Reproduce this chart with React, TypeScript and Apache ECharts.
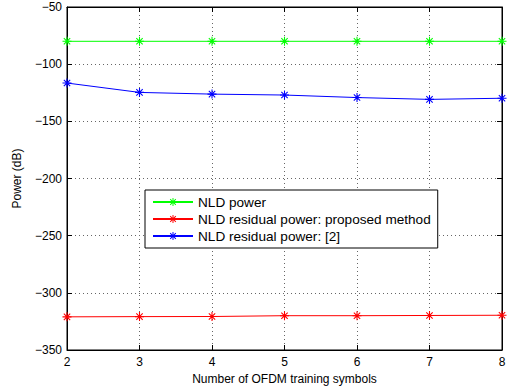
import React, { useEffect, useRef } from "react";
import * as echarts from "echarts";

const symbolsX = [2, 3, 4, 5, 6, 7, 8];
const nldPower = [-80, -80, -80, -80, -80, -80, -80];
const residualProposed = [-321, -320.8, -320.7, -320, -320, -319.8, -319.6];
const residualRef2 = [-116.5, -124.7, -126.2, -127, -129.2, -130.8, -129.8];
const seriesNames = ["NLD power", "NLD residual power: proposed method", "NLD residual power: [2]"];
const seriesColors = ["#00ff00", "#ff0000", "#0000ff"];

const star =
  "path://M-0.6,-5L0.6,-5L0.6,5L-0.6,5Z M-5,-0.6L5,-0.6L5,0.6L-5,0.6Z M-3.96,-3.11L-3.11,-3.96L3.96,3.11L3.11,3.96Z M3.11,-3.96L3.96,-3.11L-3.11,3.96L-3.96,3.11Z";

const fmt = (v: number) => (v < 0 ? "\u2212" + Math.abs(v) : String(v));
const font = "Liberation Sans, Arial, Helvetica, sans-serif";

export default function App() {
  const ref = useRef<HTMLDivElement>(null);
  useEffect(() => {
    const chart = echarts.init(ref.current!, null, { renderer: "svg" });
    const mk = (i: number, data: number[]) => ({
      name: seriesNames[i],
      type: "line",
      data: symbolsX.map((x, k) => [x, data[k]]),
      symbol: star,
      symbolSize: 9,
      showSymbol: true,
      lineStyle: { color: seriesColors[i], width: 1 },
      itemStyle: { color: seriesColors[i] },
    });
    chart.setOption({
      animation: false,
      textStyle: { fontFamily: font },
      grid: { left: 67, right: 9, top: 7, bottom: 41, show: true, borderColor: "#000", borderWidth: 1, backgroundColor: "#fff" },
      legend: {
        orient: "vertical",
        left: 145,
        top: 190,
        width: 285,
        backgroundColor: "#fff",
        borderColor: "#000",
        borderWidth: 1,
        padding: [5, 7, 5, 7],
        itemWidth: 40,
        itemHeight: 10,
        itemGap: 3,
        textStyle: { fontSize: 13.6, color: "#000", fontFamily: font },
        data: seriesNames,
      },
      xAxis: [
        {
          type: "value",
          min: 2,
          max: 8,
          interval: 1,
          name: "Number of OFDM training symbols",
          nameLocation: "middle",
          nameGap: 22,
          nameTextStyle: { fontSize: 12, color: "#000" },
          axisLine: { show: true, lineStyle: { color: "#000" } },
          axisTick: { show: true, inside: true, length: 5, lineStyle: { color: "#000" } },
          axisLabel: { fontSize: 12, color: "#000", margin: 6 },
          splitLine: { show: true, lineStyle: { color: "#666", type: [1, 3], width: 1 } },
        },
        {
          type: "value",
          position: "top",
          min: 2,
          max: 8,
          interval: 1,
          axisLine: { show: true, lineStyle: { color: "#000" } },
          axisTick: { show: true, inside: true, length: 5, lineStyle: { color: "#000" } },
          axisLabel: { show: false },
          splitLine: { show: false },
        },
      ],
      yAxis: [
        {
          type: "value",
          min: -350,
          max: -50,
          interval: 50,
          name: "Power (dB)",
          nameLocation: "middle",
          nameGap: 44,
          nameTextStyle: { fontSize: 12, color: "#000" },
          axisLine: { show: true, lineStyle: { color: "#000" } },
          axisTick: { show: true, inside: true, length: 5, lineStyle: { color: "#000" } },
          axisLabel: { fontSize: 12, color: "#000", margin: 5, formatter: fmt },
          splitLine: { show: true, lineStyle: { color: "#666", type: [1, 3], width: 1 } },
        },
        {
          type: "value",
          position: "right",
          min: -350,
          max: -50,
          interval: 50,
          axisLine: { show: true, lineStyle: { color: "#000" } },
          axisTick: { show: true, inside: true, length: 5, lineStyle: { color: "#000" } },
          axisLabel: { show: false },
          splitLine: { show: false },
        },
      ],
      series: [mk(0, nldPower), mk(1, residualProposed), mk(2, residualRef2)],
    });
    return () => chart.dispose();
  }, []);
  return <div ref={ref} style={{ position: "fixed", left: 0, top: 0, width: 511, height: 391, background: "#fff" }} />;
}
